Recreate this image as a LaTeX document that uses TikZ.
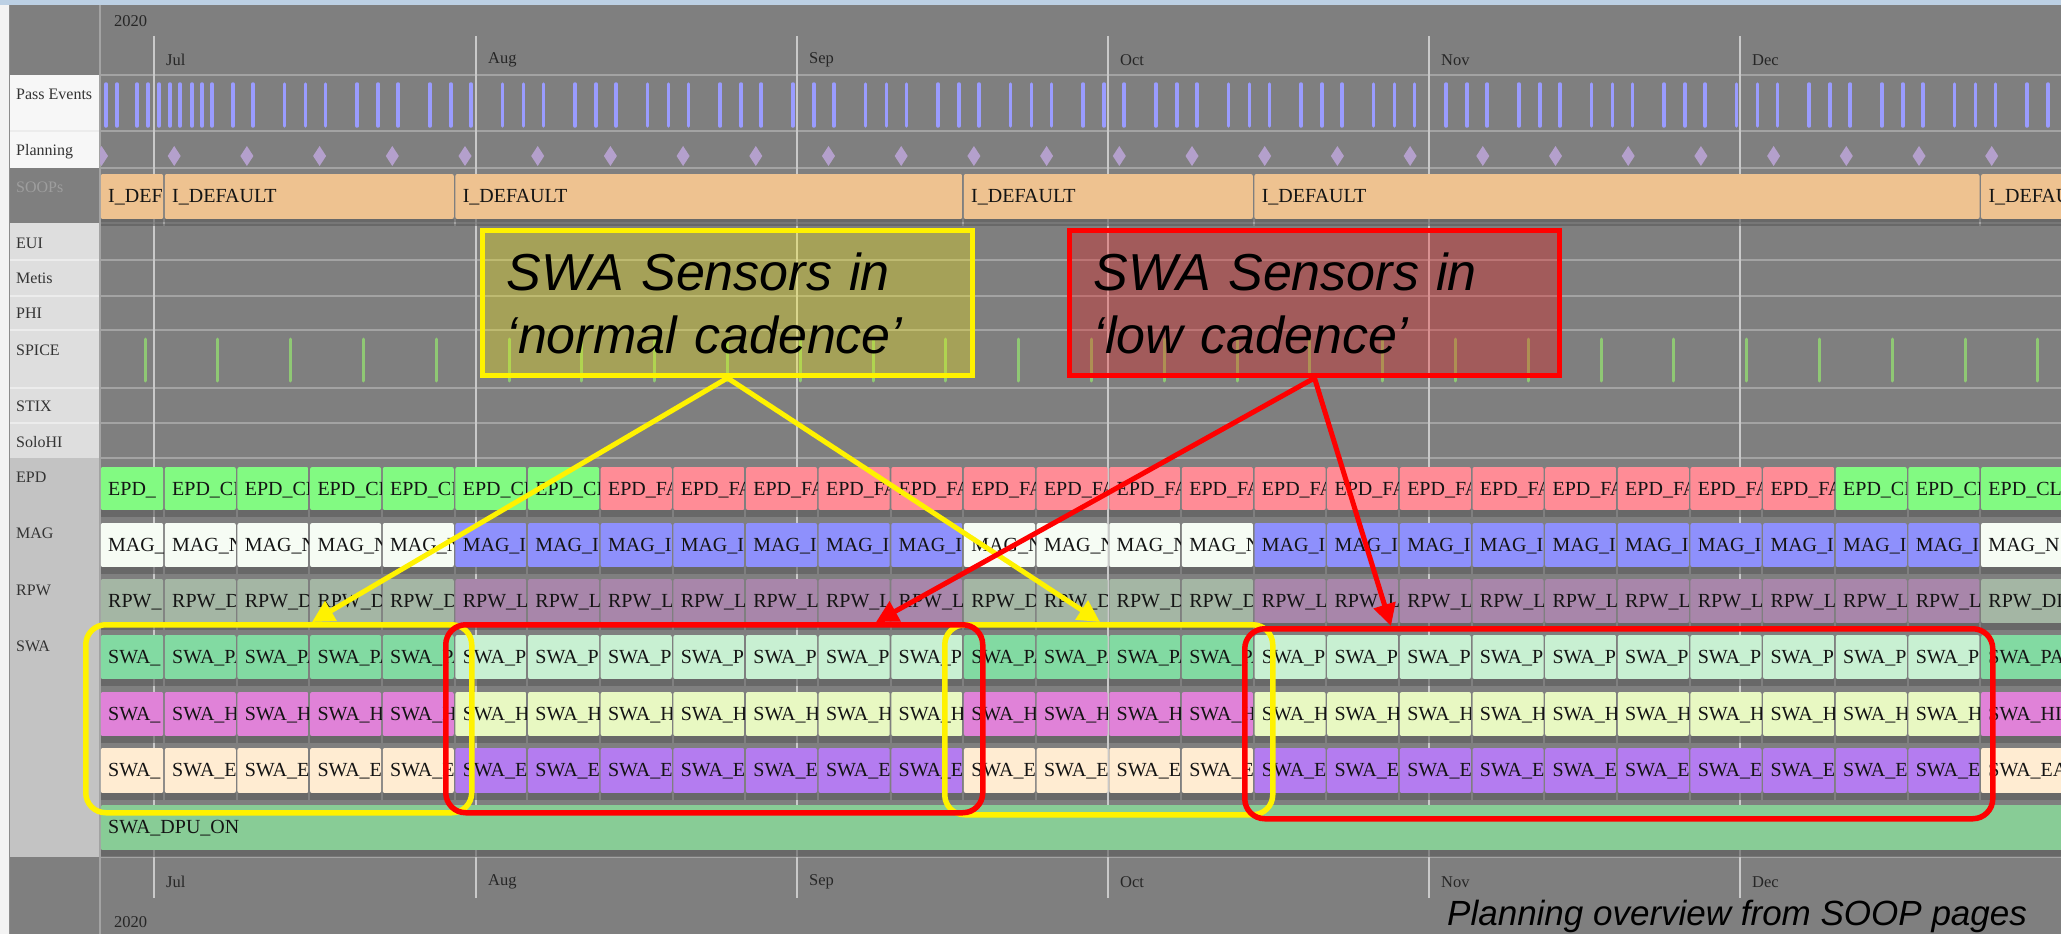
\documentclass[tikz,border=0pt]{standalone}
\usepackage{fontspec}
\setmainfont{Liberation Serif}
\newfontfamily\calloutfont{Liberation Sans}
\usetikzlibrary{arrows.meta,calc}
\definecolor{chartbg}{HTML}{7F7F7F}
\definecolor{rowline}{HTML}{A3A3A3}
\definecolor{monthline}{HTML}{C9C9C9}
\definecolor{topstrip}{HTML}{BCD0E4}
\definecolor{leftstrip}{HTML}{F3F3F3}
\definecolor{lblwhite}{HTML}{F7F7F7}
\definecolor{lbllight}{HTML}{DEDEDE}
\definecolor{lblmid}{HTML}{C3C3C3}
\definecolor{passc}{HTML}{9A9CFF}
\definecolor{planc}{HTML}{B4A0CC}
\definecolor{spicec}{HTML}{8FC874}
\definecolor{soopc}{HTML}{EEC290}
\definecolor{epdG}{HTML}{82FA82}
\definecolor{epdF}{HTML}{FF8C96}
\definecolor{magN}{HTML}{F6FCF4}
\definecolor{magI}{HTML}{8E90FC}
\definecolor{rpwD}{HTML}{A4B6A4}
\definecolor{rpwL}{HTML}{A886AA}
\definecolor{swaPA}{HTML}{82DAA2}
\definecolor{swaPB}{HTML}{C8F0D2}
\definecolor{swaHA}{HTML}{E082D8}
\definecolor{swaHB}{HTML}{E8F8C2}
\definecolor{swaEA}{HTML}{FFECD2}
\definecolor{swaEB}{HTML}{B47CF0}
\definecolor{dpuc}{HTML}{88CC96}
\definecolor{shadowc}{HTML}{5A5A5A}
% bar segment: name, x1, x2, ytop, ybot, colour, text
\newcommand{\barseg}[7]{%
  \fill[shadowc, opacity=0.6] (#2+1,#5) rectangle (#3-1,#5+7);
  \begin{scope}
    \clip[rounded corners=2] (#2+0.8,#4) rectangle (#3-0.8,#5);
    \fill[fill=#6] (#2,#4) rectangle (#3,#5);
    \node[bartext] (#1) at (#2+8,#4+28) {#7};
  \end{scope}
}
\begin{document}
\begin{tikzpicture}[x=1pt,y=-1pt,
  bartext/.style={font=\fontsize{20}{24}\selectfont, text=black!92, inner sep=0, anchor=base west},
  rowlabel/.style={font=\fontsize{16}{19}\selectfont, text=black!80, inner sep=0, anchor=west},
  monthlabel/.style={font=\fontsize{16.5}{19}\selectfont, text=black!85, inner sep=0, anchor=west},
  passtick/.style={draw=passc, line width=3.5, line cap=round},
  spicetick/.style={draw=spicec, line width=3, line cap=round},
  callbox/.style={line width=5, anchor=north west, minimum width=490, minimum height=145,
    inner sep=0, text width=442, align=left, text opacity=1,
    font=\calloutfont\itshape\fontsize{52}{63}\selectfont},
  groupbox/.style={line width=5.5, rounded corners=20, anchor=north west, inner sep=0},
  yarrow/.style={draw=yellow, line width=5, -{Triangle[length=22,width=22]}},
  rarrow/.style={draw=red, line width=5, -{Triangle[length=22,width=22]}},
]
\useasboundingbox (0,0) rectangle (2061,934);
% ---------- backgrounds ----------
\fill[chartbg] (0,0) rectangle (2061,934);
\fill[topstrip] (0,0) rectangle (2061,5);
\fill[leftstrip] (0,5) rectangle (9,934);
\draw[black!45, line width=1] (9.5,5) -- (9.5,934);
\fill[lblwhite] (10,75) rectangle (100,168);
\fill[lbllight] (10,223) rectangle (100,458);
\fill[lblmid] (10,458) rectangle (100,857);
\foreach \y in {75,131,168,223,260,296,330,388,423,458,857}
  \draw[rowline, line width=1.5] (100,\y) -- (2061,\y);
\foreach \y in {131,260,296,330,388,423}
  \draw[white!85!gray, line width=1.5] (10,\y) -- (100,\y);
\draw[rowline, line width=1.2] (100,5) -- (100,934);
\foreach \x in {154,476,797,1108,1429,1740}
  \draw[monthline, line width=1.5] (\x,36) -- (\x,898);
% ---------- header / footer ----------
\node[monthlabel] (hyear) at (114,21) {2020};
\node[monthlabel] (fyear) at (114,922) {2020};
\foreach \x/\m/\n in {154/Jul/jul,476/Aug/aug,797/Sep/sep,1108/Oct/oct,1429/Nov/nov,1740/Dec/dec}{
  \node[monthlabel] (h\n) at (\x+12,60) {\m};
  \node[monthlabel] (f\n) at (\x+12,882) {\m};
}
% ---------- row labels ----------
\node[rowlabel] (lpass) at (16,94) {Pass Events};
\node[rowlabel] (lplan) at (16,152) {Planning};
\node[rowlabel, text=black!38] (lsoop) at (16,187) {SOOPs};
\node[rowlabel] (leui) at (16,243) {EUI};
\node[rowlabel] (lmetis) at (16,278) {Metis};
\node[rowlabel] (lphi) at (16,313) {PHI};
\node[rowlabel] (lspice) at (16,350) {SPICE};
\node[rowlabel] (lstix) at (16,406) {STIX};
\node[rowlabel] (lsolohi) at (16,442) {SoloHI};
\node[rowlabel] (lepd) at (16,477) {EPD};
\node[rowlabel] (lmag) at (16,533) {MAG};
\node[rowlabel] (lrpw) at (16,590) {RPW};
\node[rowlabel] (lswa) at (16,646) {SWA};
% ---------- pass events ----------
\foreach \x in {106,117,137,148,159,170,180,192,202}
  \draw[passtick] (\x,84) -- (\x,126);
\foreach \k in {0,...,25}
  \foreach \o in {0,21,41}{
    \pgfmathsetmacro\px{212+72.6*\k+\o}
    \draw[passtick] (\px,84) -- (\px,126);
  }
% ---------- planning ----------
\begin{scope}
  \clip (100,131) rectangle (2061,168);
  \foreach \k in {0,...,26}{
    \pgfmathsetmacro\dx{101.5+72.7*\k}
    \fill[planc] (\dx,146) -- (\dx+6.5,156) -- (\dx,166) -- (\dx-6.5,156) -- cycle;
  }
\end{scope}
% ---------- SOOPs ----------
\barseg{soop0}{100}{164}{174}{219}{soopc}{I\_DEF}
\foreach \xa/\xb/\nm in {164/454.6/soop1,454.6/963/soop2,963/1253.6/soop3,1253.6/1980.3/soop4,1980.3/2075/soop5}{
  \barseg{\nm}{\xa}{\xb}{174}{219}{soopc}{I\_DEFAULT}
}
% ---------- SPICE ----------
\foreach \k in {0,...,26}{
  \pgfmathsetmacro\sx{145+72.8*\k}
  \draw[spicetick] (\sx,339) -- (\sx,381);
}
% ---------- instrument bars ----------
\foreach \j in {0,...,26}{
  \pgfmathsetmacro\xa{max(100,164+72.65*(\j-1))}
  \pgfmathsetmacro\xb{\j==26 ? 2075 : 164+72.65*\j}
  \pgfmathtruncatemacro\isG{(\j<7)||(\j>23)}
  \pgfmathtruncatemacro\isA{(\j<5)||((\j>11)&&(\j<16))||(\j==26)}
  % EPD
  \ifnum\isG=1 \def\segcol{epdG}\def\segtxt{EPD\_CL}\else\def\segcol{epdF}\def\segtxt{EPD\_FA}\fi
  \ifnum\j=0 \def\segtxt{EPD\_}\fi
  \barseg{epd\j}{\xa}{\xb}{467}{510}{\segcol}{\segtxt}
  % MAG
  \ifnum\isA=1 \def\segcol{magN}\def\segtxt{MAG\_N}\else\def\segcol{magI}\def\segtxt{MAG\_I}\fi
  \ifnum\j=0 \def\segtxt{MAG\_}\fi
  \barseg{mag\j}{\xa}{\xb}{523}{567}{\segcol}{\segtxt}
  % RPW
  \ifnum\isA=1 \def\segcol{rpwD}\def\segtxt{RPW\_DI}\else\def\segcol{rpwL}\def\segtxt{RPW\_L}\fi
  \ifnum\j=0 \def\segtxt{RPW\_}\fi
  \barseg{rpw\j}{\xa}{\xb}{579}{623}{\segcol}{\segtxt}
  % SWA P
  \ifnum\isA=1 \def\segcol{swaPA}\def\segtxt{SWA\_PA}\else\def\segcol{swaPB}\def\segtxt{SWA\_P}\fi
  \ifnum\j=0 \def\segtxt{SWA\_}\fi
  \barseg{swap\j}{\xa}{\xb}{635}{679}{\segcol}{\segtxt}
  % SWA H
  \ifnum\isA=1 \def\segcol{swaHA}\def\segtxt{SWA\_HI}\else\def\segcol{swaHB}\def\segtxt{SWA\_H}\fi
  \ifnum\j=0 \def\segtxt{SWA\_}\fi
  \barseg{swah\j}{\xa}{\xb}{692}{736}{\segcol}{\segtxt}
  % SWA E
  \ifnum\isA=1 \def\segcol{swaEA}\def\segtxt{SWA\_EA}\else\def\segcol{swaEB}\def\segtxt{SWA\_E}\fi
  \ifnum\j=0 \def\segtxt{SWA\_}\fi
  \barseg{swae\j}{\xa}{\xb}{748}{793}{\segcol}{\segtxt}
}
\barseg{dpu}{100}{2075}{805}{850}{dpuc}{SWA\_DPU\_ON}
% ---------- yellow annotation ----------
\node[callbox, draw=yellow, fill=yellow, fill opacity=0.3] (ycall) at (480,228)
  {SWA Sensors in\\‘normal cadence’};
\node[groupbox, draw=yellow, minimum width=386, minimum height=188] (yb1) at (83,622) {};
\node[groupbox, draw=yellow, minimum width=328, minimum height=190] (yb2) at (942,622) {};
\draw[yarrow] (ycall.south) -- ($(yb1.north west)+(229,0)$);
\draw[yarrow] (ycall.south) -- ($(yb2.north west)+(158,0)$);
% ---------- red annotation ----------
\node[callbox, draw=red, fill=red, fill opacity=0.28] (rcall) at (1067,228)
  {SWA Sensors in\\‘low cadence’};
\node[groupbox, draw=red, minimum width=537, minimum height=188] (rb1) at (443,622) {};
\node[groupbox, draw=red, minimum width=748, minimum height=190] (rb2) at (1242,626) {};
\draw[rarrow] (rcall.south) -- ($(rb1.north west)+(433,0)$);
\draw[rarrow] (rcall.south) -- ($(rb2.north west)+(149,0)$);
% ---------- caption ----------
\node[font=\calloutfont\itshape\fontsize{35}{40}\selectfont, anchor=base west, inner sep=0]
  (caption) at (1447,925) {Planning overview from SOOP pages};
\end{tikzpicture}
\end{document}
